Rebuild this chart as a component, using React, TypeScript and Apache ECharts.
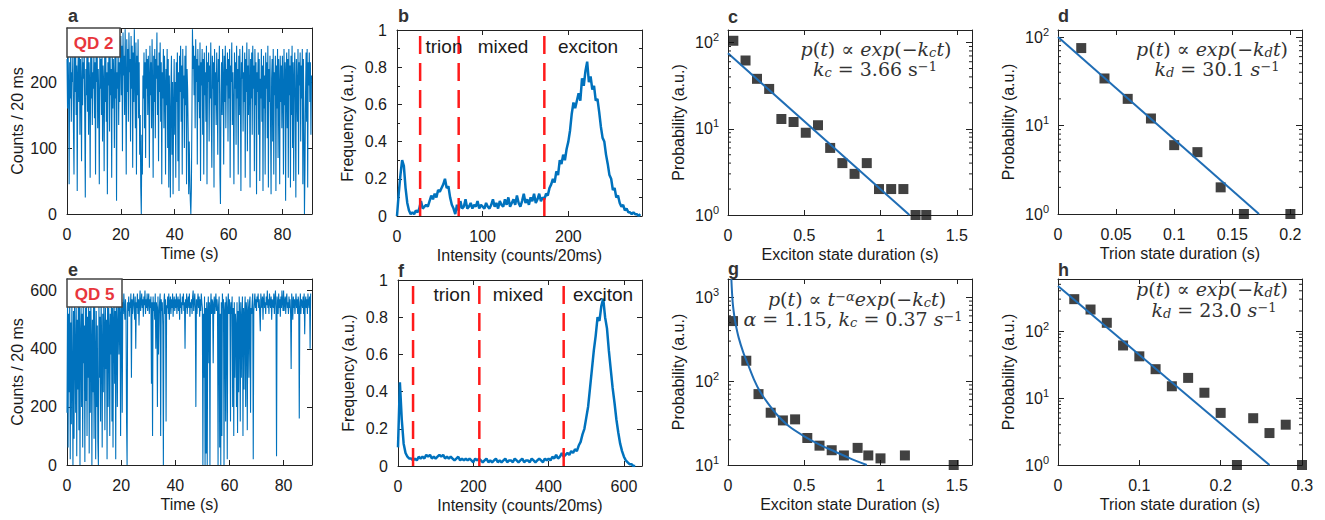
import React, { useEffect, useRef } from 'react';
import * as echarts from 'echarts';

// ---------------- data ----------------
const TRACE_DT = 0.2; // s per sample
const TRACE_A = [
  // 0-10 s
  235,160,250,190,45,230,175,260,140,215,200,250,130,60,240,185,255,150,225,35,
  210,245,170,260,120,235,195,80,250,165,230,205,255,140,25,220,180,245,155,260,
  120,230,200,55,245,175,255,135,215,190,
  // 10-20 s
  250,145,230,60,240,200,260,130,220,175,45,250,190,235,150,255,110,225,200,65,
  240,170,260,140,215,30,230,195,250,125,245,180,220,55,255,160,235,205,100,250,
  175,240,20,215,190,255,135,230,170,245,
  // 20-30 s
  270,180,255,95,275,210,240,150,280,200,60,265,185,250,140,275,215,235,110,270,
  190,255,70,245,170,280,205,130,260,60,240,180,265,145,230,90,150,40,0,120,
  60,210,175,245,130,230,85,250,190,235,
  // 30-40 s
  150,240,205,70,255,180,230,130,265,195,55,240,170,250,115,235,205,275,150,225,
  80,245,185,260,140,230,45,215,175,250,130,240,195,60,220,165,250,100,235,40,
  210,150,25,190,240,90,200,30,160,235,
  // 40-50 s
  120,200,55,230,170,245,80,215,35,240,185,255,140,225,60,250,175,210,100,240,
  165,255,45,220,190,130,30,110,60,20,0,40,150,280,220,255,180,240,130,265,
  200,235,75,250,170,225,145,260,50,230,
  // 50-60 s
  195,250,120,235,60,245,180,215,140,255,45,230,200,245,110,225,175,260,150,70,
  240,190,230,40,250,165,215,135,245,185,90,235,200,255,60,15,180,230,150,250,
  205,75,240,170,255,130,220,195,245,110,
  // 60-70 s
  235,175,250,55,225,200,260,135,215,160,45,245,190,230,105,255,175,220,60,240,
  150,250,195,35,230,205,255,125,215,170,245,55,235,185,260,95,225,150,250,200,
  40,235,175,245,120,255,190,225,65,250,
  // 70-80 s
  165,230,30,215,185,245,120,235,50,205,175,250,140,225,35,240,160,210,60,245,
  190,230,115,255,40,220,170,240,140,30,205,235,110,250,60,215,180,240,35,225,
  160,250,85,235,195,45,240,170,225,130,
  // 80-91 s
  240,190,60,250,165,230,20,215,245,130,235,55,250,180,225,40,240,150,255,100,
  230,50,205,245,170,25,235,190,140,250,60,230,195,245,110,225,175,250,45,235,
  150,0,70,180,245,140,250,40,230,195,245,170,230,120,210,
];
const TRACE_E = [
  // 0-10 s
  180,560,60,520,250,580,20,490,140,550,320,0,530,90,570,400,180,540,30,500,
  260,560,120,580,0,450,540,200,520,60,560,350,480,10,540,220,580,100,510,300,
  560,40,530,180,570,430,0,500,250,545,
  // 10-20 s
  90,560,380,20,530,200,480,80,0,550,300,510,150,570,420,60,520,250,560,480,
  120,540,330,500,20,560,200,540,470,100,520,380,560,150,540,60,500,570,280,530,
  20,560,490,200,550,540,380,570,520,100,
  // 20-30 s
  540,570,180,560,520,590,540,500,570,530,150,0,560,530,580,510,560,540,590,300,
  570,520,560,590,540,500,580,400,560,540,590,520,570,480,560,600,530,560,590,540,
  570,510,580,550,600,520,570,540,590,530,
  // 30-40 s
  560,590,520,570,540,580,280,560,100,580,530,560,500,590,400,560,540,200,580,380,
  520,560,590,100,570,530,560,480,0,560,590,520,570,150,550,540,580,520,590,500,
  560,580,520,570,540,590,510,560,580,530,
  // 40-50 s
  570,540,590,520,560,580,530,570,500,590,540,560,520,580,550,590,530,560,400,570,
  540,590,520,560,580,540,590,510,560,540,570,520,580,600,530,560,590,540,200,570,
  520,560,590,540,580,510,570,530,590,560,
  // 50-60 s
  540,0,520,300,580,0,540,40,560,0,530,580,350,560,0,540,590,520,570,560,
  350,550,580,520,560,590,530,570,540,0,550,580,60,520,0,560,100,590,540,570,
  0,530,560,150,580,540,20,560,590,520,
  // 60-70 s
  570,540,150,560,520,580,200,540,100,560,300,520,480,200,560,110,530,250,580,520,
  150,560,300,500,580,100,540,260,520,580,200,560,530,120,570,540,300,560,580,180,
  540,520,560,590,20,530,560,590,540,570,
  // 70-80 s
  530,580,560,590,540,570,520,460,590,560,540,580,500,570,590,540,560,520,580,550,
  600,540,570,520,590,560,540,580,500,570,560,540,590,520,570,600,540,30,580,560,
  520,590,540,570,510,580,540,600,560,530,
  // 80-90 s
  600,530,560,580,520,570,590,540,560,520,580,540,570,520,330,590,560,500,580,540,
  570,520,560,590,540,570,520,580,560,160,540,590,520,570,560,540,580,520,590,450,
  560,580,540,570,520,590,560,540,580,400,590,
];

const HIST_B_STEP = 2;
const HIST_B = [
  0.00,0.12,0.22,0.30,0.27,0.15,0.07,0.03,0.01,0.02,0.01,0.03,0.02,0.04,0.08,0.04,0.05,0.06,0.05,0.08,
  0.11,0.09,0.12,0.10,0.14,0.13,0.15,0.17,0.20,0.15,0.16,0.10,0.06,0.04,0.01,0.06,0.03,0.08,0.04,0.05,
  0.09,0.04,0.05,0.07,0.04,0.06,0.05,0.08,0.04,0.06,0.05,0.04,0.07,0.05,0.04,0.06,0.09,0.05,0.07,0.04,
  0.08,0.06,0.05,0.09,0.06,0.10,0.05,0.07,0.09,0.06,0.11,0.07,0.05,0.08,0.12,0.07,0.09,0.06,0.10,0.08,
  0.12,0.07,0.09,0.12,0.08,0.10,0.09,0.12,0.11,0.15,0.17,0.20,0.18,0.24,0.22,0.30,0.28,0.33,0.30,0.36,
  0.40,0.46,0.55,0.61,0.58,0.62,0.66,0.62,0.74,0.70,0.78,0.83,0.72,0.75,0.68,0.70,0.62,0.63,0.56,0.48,
  0.42,0.40,0.33,0.28,0.22,0.20,0.14,0.15,0.10,0.11,0.07,0.05,0.06,0.03,0.04,0.02,0.02,0.01,0.02,0.01,
  0.01,0.00,0.01,
];
const HIST_F_STEP = 5;
const HIST_F = [
  0.10,0.45,0.25,0.12,0.07,0.05,0.04,0.04,0.03,0.04,0.03,0.05,0.04,0.05,0.04,0.06,0.05,0.06,0.04,0.05,
  0.04,0.05,0.06,0.05,0.06,0.04,0.05,0.04,0.05,0.04,0.03,0.04,0.05,0.03,0.04,0.03,0.04,0.03,0.04,0.03,
  0.02,0.04,0.03,0.04,0.03,0.02,0.03,0.04,0.02,0.03,0.02,0.03,0.04,0.02,0.03,0.02,0.03,0.04,0.02,0.03,
  0.03,0.02,0.04,0.03,0.02,0.03,0.04,0.02,0.03,0.03,0.02,0.04,0.03,0.02,0.03,0.04,0.03,0.02,0.04,0.03,
  0.04,0.03,0.05,0.04,0.06,0.04,0.05,0.07,0.05,0.06,0.07,0.06,0.08,0.07,0.09,0.08,0.11,0.13,0.17,0.20,
  0.26,0.32,0.42,0.52,0.62,0.70,0.80,0.78,0.86,0.90,0.80,0.74,0.62,0.52,0.42,0.34,0.25,0.18,0.12,0.08,
  0.05,0.03,0.02,0.01,0.01,0.00,0.00,
];
const CUT_B = [27, 72, 172];
const CUT_F = [40, 216, 440];
const STATE_LABELS = ['trion', 'mixed', 'exciton'];

const C_X = [0.035,0.115,0.19,0.27,0.35,0.43,0.51,0.59,0.67,0.75,0.83,0.91,0.99,1.07,1.15,1.23,1.30];
const C_Y = [105,62,38,29,13,12,9,11,6,4,3,4,2,2,2,1,1];
const C_FIT_X = [0, 1.19];
const C_FIT_Y = [75, 1];

const D_X = [0.02,0.04,0.06,0.08,0.10,0.12,0.14,0.16,0.20];
const D_Y = [75,34,20,12,6,5,2,1,1];
const D_FIT_X = [0, 0.173];
const D_FIT_Y = [100, 1];

const G_X = [0.033,0.12,0.20,0.28,0.36,0.44,0.52,0.60,0.68,0.76,0.85,0.92,1.0,1.16,1.48];
const G_Y = [520,175,70,42,34,35,21,17,15,13,16,13,12,13,10];
const G_FIT_X = [0.022,0.03,0.04,0.05,0.07,0.10,0.13,0.17,0.21,0.26,0.32,0.40,0.50,0.60,0.70,0.80,0.91];
const G_FIT_Y = [1650,900,620,480,330,220,160,105,75,55,40,29,22,17.5,14.5,12,10];

const H_X = [0.02,0.04,0.06,0.08,0.10,0.12,0.14,0.16,0.18,0.20,0.22,0.24,0.26,0.28,0.30];
const H_Y = [300,210,133,61,42,27,15,20,12,6,1,5,3,4,1];
const H_FIT_X = [0, 0.26];
const H_FIT_Y = [470, 1];

const MINOR_LOG = [2,3,4,5,6,7,8,9,20,30,40,50,60,70,80,90,200,300,400,500,600,700,800,900,2000,3000];

// ---------------- style ----------------
const SANS = '"Liberation Sans", Arial, sans-serif';
const SERIF = '"DejaVu Serif", "Liberation Serif", serif';
const TXT = '#1a1a1a';
const AX = '#222222';
const BLUE = '#0072BD';
const FIT = '#1f6db5';

const GRIDS = [
  { left: 67, top: 28, width: 245, height: 186 },
  { left: 397, top: 30, width: 245, height: 186 },
  { left: 728, top: 30, width: 244, height: 185 },
  { left: 1058, top: 30, width: 244, height: 184 },
  { left: 67, top: 279, width: 245, height: 186 },
  { left: 398, top: 280, width: 244, height: 186 },
  { left: 728, top: 279, width: 244, height: 186 },
  { left: 1058, top: 279, width: 244, height: 186 },
];

type AxCfg = { type: 'value' | 'log'; min: number; max: number; interval?: number; name: string; showMax?: boolean; minor?: boolean };
const PANELS: { x: AxCfg; y: AxCfg }[] = [
  { x: { type: 'value', min: 0, max: 91, interval: 20, name: 'Time (s)' }, y: { type: 'value', min: 0, max: 282, interval: 100, name: 'Counts / 20 ms' } },
  { x: { type: 'value', min: 0, max: 286, interval: 100, name: 'Intensity (counts/20ms)' }, y: { type: 'value', min: 0, max: 1, interval: 0.2, name: 'Frequency (a.u.)', showMax: true, minor: true } },
  { x: { type: 'value', min: 0, max: 1.6, interval: 0.5, name: 'Exciton state duration (s)' }, y: { type: 'log', min: 1, max: 140, name: 'Probability (a.u.)' } },
  { x: { type: 'value', min: 0, max: 0.21, interval: 0.05, name: 'Trion state duration (s)' }, y: { type: 'log', min: 1, max: 120, name: 'Probability (a.u.)' } },
  { x: { type: 'value', min: 0, max: 90.5, interval: 20, name: 'Time (s)' }, y: { type: 'value', min: 0, max: 640, interval: 200, name: 'Counts / 20 ms' } },
  { x: { type: 'value', min: 0, max: 648, interval: 200, name: 'Intensity (counts/20ms)' }, y: { type: 'value', min: 0, max: 1, interval: 0.2, name: 'Frequency (a.u.)', showMax: true } },
  { x: { type: 'value', min: 0, max: 1.6, interval: 0.5, name: 'Exciton state Duration (s)' }, y: { type: 'log', min: 10, max: 1650, name: 'Probability (a.u.)' } },
  { x: { type: 'value', min: 0, max: 0.3, interval: 0.1, name: 'Trion state duration (s)', showMax: true }, y: { type: 'log', min: 1, max: 600, name: 'Probability (a.u.)' } },
];

const logFmt = (v: number) => {
  const e = Math.log10(v);
  const r = Math.round(e);
  return Math.abs(e - r) < 1e-6 ? `10{s|${r}}` : '';
};

function buildAxes() {
  const xAxis: any[] = [];
  const yAxis: any[] = [];
  PANELS.forEach((p, gi) => {
    const line = { show: true, onZero: false, lineStyle: { color: AX, width: 1 } };
    const tick = { show: true, inside: true, length: 5, lineStyle: { color: AX, width: 1 } };
    const xc: any = {
      gridIndex: gi, type: p.x.type, min: p.x.min, max: p.x.max, interval: p.x.interval,
      axisLine: line, axisTick: tick, splitLine: { show: false },
    };
    xAxis.push({
      ...xc, position: 'bottom', name: p.x.name, nameLocation: 'middle', nameGap: 31,
      nameTextStyle: { fontSize: 16, color: TXT, fontFamily: SANS },
      axisLabel: { show: true, fontSize: 16, color: TXT, fontFamily: SANS, margin: 12, showMaxLabel: !!p.x.showMax, showMinLabel: true },
    });
    xAxis.push({ ...xc, position: 'top', axisLabel: { show: false } });

    const isLog = p.y.type === 'log';
    const yc: any = {
      gridIndex: gi, type: p.y.type, min: p.y.min, max: p.y.max, splitLine: { show: false },
      axisLine: line, axisTick: { ...tick, length: isLog ? 6 : 5 },
      minorTick: p.y.minor ? { show: true, splitNumber: 2, length: 3, lineStyle: { color: AX } } : { show: false },
    };
    if (!isLog) yc.interval = p.y.interval;
    if (isLog) yc.logBase = 10;
    yAxis.push({
      ...yc, position: 'left', name: p.y.name, nameLocation: 'middle', nameGap: 42,
      nameTextStyle: { fontSize: 16, color: TXT, fontFamily: SANS },
      axisLabel: isLog
        ? { show: true, fontSize: 16, color: TXT, fontFamily: SANS, margin: 9, lineHeight: 22, formatter: logFmt,
            rich: { s: { fontSize: 11, lineHeight: 11, verticalAlign: 'top', color: TXT, fontFamily: SANS } } }
        : { show: true, fontSize: 16, color: TXT, fontFamily: SANS, margin: 10, showMaxLabel: !!p.y.showMax },
    });
    yAxis.push({ ...yc, position: 'right', axisLabel: { show: false } });
  });
  return { xAxis, yAxis };
}

const minorTicks = (p: number) => {
  const cfg = PANELS[p];
  return {
    type: 'custom', xAxisIndex: 2 * p, yAxisIndex: 2 * p, silent: true, clip: false, z: 5,
    data: MINOR_LOG.filter((v) => v > cfg.y.min && v < cfg.y.max).map((v) => [cfg.x.min, v]),
    renderItem: (params: any, api: any) => {
      const cs = params.coordSys;
      const y = api.coord([api.value(0), api.value(1)])[1];
      return {
        type: 'group',
        children: [
          { type: 'line', shape: { x1: cs.x, y1: y, x2: cs.x + 3, y2: y }, style: { stroke: AX, lineWidth: 1 } },
          { type: 'line', shape: { x1: cs.x + cs.width - 3, y1: y, x2: cs.x + cs.width, y2: y }, style: { stroke: AX, lineWidth: 1 } },
        ],
      };
    },
  };
};

function buildSeries() {
  const s: any[] = [];
  const line = (p: number, data: number[][], style: any, z = 2) => ({
    type: 'line', xAxisIndex: 2 * p, yAxisIndex: 2 * p, data, showSymbol: false, symbol: 'none',
    silent: true, lineStyle: style, z,
  });
  s.push(line(0, TRACE_A.map((v, i) => [i * TRACE_DT, v]), { width: 1.1, color: BLUE }));
  s.push(line(4, TRACE_E.map((v, i) => [i * TRACE_DT, v]), { width: 1.1, color: BLUE }));
  s.push(line(1, HIST_B.map((v, i) => [i * HIST_B_STEP, v]), { width: 2.5, color: BLUE }));
  s.push(line(5, HIST_F.map((v, i) => [i * HIST_F_STEP, v]), { width: 2.5, color: BLUE }));
  CUT_B.forEach((c) => s.push(line(1, [[c, 0], [c, 1]], { width: 2.5, color: '#ff1a1a', type: [18, 9] }, 3)));
  CUT_F.forEach((c) => s.push(line(5, [[c, 0], [c, 1]], { width: 2.5, color: '#ff1a1a', type: [18, 9] }, 3)));

  const scatter = (p: number, xs: number[], ys: number[]) => ({
    type: 'scatter', xAxisIndex: 2 * p, yAxisIndex: 2 * p, symbol: 'rect', symbolSize: 10,
    itemStyle: { color: '#111' }, silent: true, data: xs.map((x, i) => [x, ys[i]]), z: 3,
  });
  const fit = (p: number, xs: number[], ys: number[]) =>
    ({ ...line(p, xs.map((x, i) => [x, ys[i]]), { width: 2, color: FIT }, 4), smooth: p === 6 ? 0.3 : false });
  s.push(scatter(2, C_X, C_Y), fit(2, C_FIT_X, C_FIT_Y), minorTicks(2));
  s.push(scatter(3, D_X, D_Y), fit(3, D_FIT_X, D_FIT_Y), minorTicks(3));
  s.push(scatter(6, G_X, G_Y), fit(6, G_FIT_X, G_FIT_Y), minorTicks(6));
  s.push(scatter(7, H_X, H_Y), fit(7, H_FIT_X, H_FIT_Y), minorTicks(7));
  return s;
}

const FS = 19;
const LH = 19;
const FCOL = '#333333';
const RICH = {
  i: { fontFamily: SERIF, fontStyle: 'italic', fontSize: FS, lineHeight: LH, fill: FCOL },
  n: { fontFamily: SERIF, fontSize: FS, lineHeight: LH, fill: FCOL },
  sb: { fontFamily: SERIF, fontStyle: 'italic', fontSize: 13, lineHeight: 3, verticalAlign: 'bottom', fill: FCOL },
  sp: { fontFamily: SERIF, fontSize: 13, lineHeight: 5, verticalAlign: 'top', fill: FCOL },
  spi: { fontFamily: SERIF, fontStyle: 'italic', fontSize: 13, lineHeight: 5, verticalAlign: 'top', fill: FCOL },
};
const FORMULAS = [
  { x: 876, y: 49, t: '{i|p}{n|(}{i|t}{n|) ∝ }{i|exp}{n|(−}{i|k}{sb|c}{i|t}{n|)}' },
  { x: 875, y: 69, t: '{i|k}{sb|c}{n| = 3.66 s}{sp|−1}' },
  { x: 1212, y: 49, t: '{i|p}{n|(}{i|t}{n|) ∝ }{i|exp}{n|(−}{i|k}{sb|d}{i|t}{n|)}' },
  { x: 1217, y: 69, t: '{i|k}{sb|d}{n| = 30.1 }{i|s}{sp|−1}' },
  { x: 857, y: 299, t: '{i|p}{n|(}{i|t}{n|) ∝ }{i|t}{spi|−α}{i|exp}{n|(−}{i|k}{sb|c}{i|t}{n|)}' },
  { x: 853, y: 319, t: '{i|α}{n| = 1.15, }{i|k}{sb|c}{n| = 0.37 }{i|s}{sp|−1}' },
  { x: 1212, y: 289, t: '{i|p}{n|(}{i|t}{n|) ∝ }{i|exp}{n|(−}{i|k}{sb|d}{i|t}{n|)}' },
  { x: 1214, y: 310, t: '{i|k}{sb|d}{n| = 23.0 }{i|s}{sp|−1}' },
];
const PANEL_LETTERS = [
  { t: 'a', x: 68, y: 16 }, { t: 'b', x: 398, y: 16 }, { t: 'c', x: 728, y: 17 }, { t: 'd', x: 1058, y: 16 },
  { t: 'e', x: 68, y: 270 }, { t: 'f', x: 398, y: 271 }, { t: 'g', x: 728, y: 269 }, { t: 'h', x: 1058, y: 270 },
];
const STATE_POS_B = [{ x: 444, y: 46 }, { x: 503, y: 46 }, { x: 588, y: 46 }];
const STATE_POS_F = [{ x: 452, y: 294 }, { x: 518, y: 294 }, { x: 603, y: 294 }];

function buildGraphics() {
  const g: any[] = [];
  PANEL_LETTERS.forEach((l) => g.push({
    type: 'text', x: l.x, y: l.y, z: 100,
    style: { text: l.t, fontFamily: SANS, fontWeight: 'bold', fontSize: 18, fill: '#333', align: 'left', verticalAlign: 'middle' },
  }));
  const qd = (x: number, y: number, w: number, h: number, t: string) => ({
    type: 'group', z: 100, children: [
      { type: 'rect', z: 100, shape: { x, y, width: w, height: h }, style: { fill: '#fff', stroke: '#444', lineWidth: 1.5 } },
      { type: 'text', z: 101, x: x + w / 2, y: y + h / 2 + 1, style: { text: t, fontFamily: SANS, fontWeight: 'bold', fontSize: 17, fill: '#e8363c', align: 'center', verticalAlign: 'middle' } },
    ],
  });
  g.push(qd(67, 28, 53, 29, 'QD 2'));
  g.push(qd(67, 279, 55, 28, 'QD 5'));
  STATE_LABELS.forEach((t, i) => {
    g.push({ type: 'text', z: 100, x: STATE_POS_B[i].x, y: STATE_POS_B[i].y, style: { text: t, fontFamily: SANS, fontSize: 19, fill: TXT, align: 'center', verticalAlign: 'middle' } });
    g.push({ type: 'text', z: 100, x: STATE_POS_F[i].x, y: STATE_POS_F[i].y, style: { text: t, fontFamily: SANS, fontSize: 19, fill: TXT, align: 'center', verticalAlign: 'middle' } });
  });
  FORMULAS.forEach((f) => g.push({
    type: 'text', z: 100, x: f.x, y: f.y,
    style: { text: f.t, rich: RICH, fontFamily: SERIF, fontSize: FS, lineHeight: LH, fill: FCOL, align: 'center', verticalAlign: 'middle' },
  }));
  return g;
}

export default function App() {
  const ref = useRef<HTMLDivElement>(null);
  useEffect(() => {
    if (!ref.current) return;
    const chart = echarts.init(ref.current, undefined, { renderer: 'svg' });
    const { xAxis, yAxis } = buildAxes();
    chart.setOption({
      animation: false,
      backgroundColor: '#ffffff',
      textStyle: { fontFamily: SANS },
      grid: GRIDS.map((g) => ({ ...g, containLabel: false, outerBoundsMode: 'none', show: false })),
      xAxis,
      yAxis,
      series: buildSeries(),
      graphic: { elements: buildGraphics() },
    });
    return () => chart.dispose();
  }, []);
  return <div ref={ref} style={{ position: 'absolute', left: 0, top: 0, width: 1325, height: 520 }} />;
}
